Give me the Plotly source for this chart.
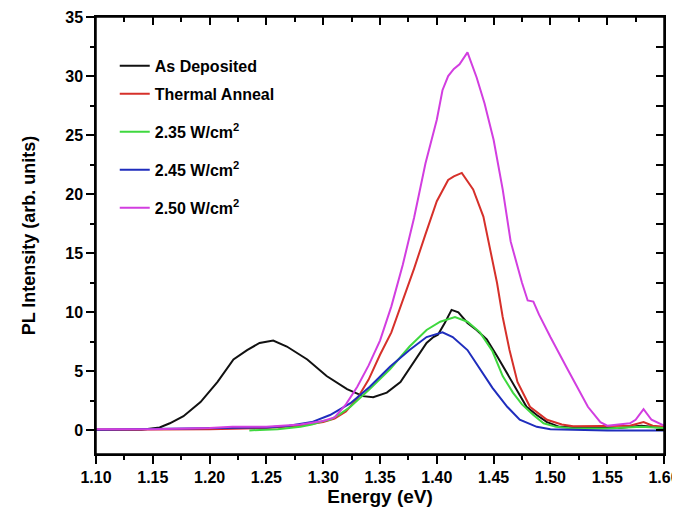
import plotly.graph_objects as go

# ---- data ----
as_dep_x = [1.10, 1.14, 1.156, 1.165, 1.177, 1.192, 1.207, 1.221, 1.233, 1.244, 1.256, 1.268, 1.286, 1.303,
            1.321, 1.335, 1.344, 1.356, 1.368, 1.379, 1.391, 1.397, 1.401, 1.407, 1.413, 1.419, 1.427,
            1.435, 1.444, 1.453, 1.462, 1.471, 1.479, 1.488, 1.497, 1.508, 1.53, 1.56, 1.58, 1.60]
as_dep_y = [0.05, 0.05, 0.25, 0.6, 1.2, 2.4, 4.1, 6.0, 6.8, 7.4, 7.6, 7.1, 6.0, 4.6,
            3.5, 2.9, 2.8, 3.2, 4.1, 5.7, 7.4, 7.9, 8.1, 9.1, 10.2, 10.0, 9.1,
            8.5, 7.7, 6.3, 4.8, 3.4, 2.0, 1.3, 0.7, 0.3, 0.2, 0.2, 0.4, 0.2]

anneal_x = [1.10, 1.20, 1.25, 1.28, 1.30, 1.31, 1.32, 1.33, 1.34, 1.35, 1.36, 1.37, 1.38, 1.39, 1.40,
            1.41, 1.415, 1.422, 1.432, 1.441, 1.447, 1.453, 1.458, 1.464, 1.471, 1.482, 1.497, 1.51,
            1.52, 1.55, 1.57, 1.582, 1.59, 1.60]
anneal_y = [0.05, 0.1, 0.2, 0.4, 0.7, 1.0, 1.6, 2.7, 4.3, 6.4, 8.3, 11.0, 13.7, 16.6, 19.4,
            21.2, 21.5, 21.8, 20.4, 18.1, 15.4, 12.5, 9.6, 6.8, 4.1, 2.0, 0.9, 0.5,
            0.35, 0.35, 0.4, 0.7, 0.4, 0.3]

p235_x = [1.235, 1.26, 1.28, 1.29, 1.30, 1.306, 1.315, 1.324, 1.341, 1.359, 1.376, 1.391, 1.403, 1.416,
          1.427, 1.438, 1.449, 1.458, 1.467, 1.475, 1.485, 1.494, 1.505, 1.52, 1.55, 1.58, 1.60]
p235_y = [0.0, 0.1, 0.3, 0.5, 0.8, 0.9, 1.4, 2.0, 3.5, 5.2, 7.1, 8.5, 9.2, 9.6,
          9.2, 8.3, 6.7, 4.6, 3.2, 2.2, 1.3, 0.6, 0.3, 0.15, 0.15, 0.3, 0.2]

p245_x = [1.10, 1.18, 1.22, 1.25, 1.27, 1.29, 1.306, 1.324, 1.341, 1.359, 1.376, 1.391, 1.405, 1.414,
          1.427, 1.438, 1.449, 1.462, 1.473, 1.488, 1.50, 1.55, 1.60]
p245_y = [0.05, 0.15, 0.25, 0.25, 0.4, 0.7, 1.3, 2.3, 3.7, 5.4, 6.8, 7.9, 8.3, 7.9,
          6.8, 5.2, 3.6, 2.0, 0.9, 0.3, 0.1, 0.0, 0.0]

p250_x = [1.10, 1.15, 1.20, 1.22, 1.25, 1.28, 1.30, 1.31, 1.32, 1.33, 1.34, 1.35, 1.36, 1.37, 1.38,
          1.39, 1.40, 1.405, 1.41, 1.415, 1.42, 1.427, 1.435, 1.442, 1.45, 1.458, 1.465, 1.475,
          1.48, 1.485, 1.49, 1.50, 1.515, 1.526, 1.533, 1.544, 1.55, 1.56, 1.57, 1.575, 1.582,
          1.589, 1.60]
p250_y = [0.1, 0.1, 0.2, 0.3, 0.3, 0.5, 0.8, 1.1, 2.2, 3.7, 5.5, 7.6, 10.5, 14.0, 18.0,
          22.6, 26.3, 28.8, 30.0, 30.6, 31.0, 32.0, 29.9, 27.7, 24.6, 20.4, 16.0, 12.5,
          11.0, 10.9, 9.8, 7.9, 5.2, 3.2, 2.0, 0.7, 0.4, 0.5, 0.6, 0.9, 1.8,
          0.9, 0.4]

series_names = ["As Deposited", "Thermal Anneal", "2.35 W/cm<sup>2</sup>",
                "2.45 W/cm<sup>2</sup>", "2.50 W/cm<sup>2</sup>"]
series_x = [as_dep_x, anneal_x, p235_x, p245_x, p250_x]
series_y = [as_dep_y, anneal_y, p235_y, p245_y, p250_y]
series_colors = ["#111111", "#d6302a", "#3fd83f", "#1f2dbd", "#d23ee0"]

x_ticks = [1.10, 1.15, 1.20, 1.25, 1.30, 1.35, 1.40, 1.45, 1.50, 1.55, 1.60]
x_minor_ticks = [1.125, 1.175, 1.225, 1.275, 1.325, 1.375, 1.425, 1.475, 1.525, 1.575]
y_ticks = [0, 5, 10, 15, 20, 25, 30, 35]
y_minor_ticks = [2.5, 7.5, 12.5, 17.5, 22.5, 27.5, 32.5]
x_range = [1.10, 1.60]
y_range = [-2, 35]

FONT = "Arial, Liberation Sans, sans-serif"

# legend rows (paper y of each legend entry)
legend_ids = ["legend", "legend2", "legend3", "legend4", "legend5"]
legend_rows = [0.888, 0.824, 0.737, 0.650, 0.563]

fig = go.Figure()
for name, xs, ys, col, lid in zip(series_names, series_x, series_y, series_colors, legend_ids):
    fig.add_trace(go.Scatter(x=xs, y=ys, mode="lines", name=name, legend=lid,
                             line=dict(color=col, width=2)))

# transparent copies so that plotly draws the frame / minor-tick axes
for xa, ya in [("x2", "y2"), ("x3", "y2"), ("x4", "y3")]:
    fig.add_trace(go.Scatter(x=as_dep_x, y=as_dep_y, xaxis=xa, yaxis=ya, mode="lines",
                             line=dict(width=1, color="rgba(0,0,0,0)"),
                             showlegend=False, hoverinfo="skip"))

legend_style = dict(xanchor="left", yanchor="middle", bgcolor="rgba(0,0,0,0)", borderwidth=0,
                    font=dict(family=FONT, size=16, weight="bold", color="black"),
                    itemwidth=30)
legends = {lid: dict(x=0.033, y=ly, **legend_style) for lid, ly in zip(legend_ids, legend_rows)}

tick_style = dict(tickwidth=1.5, tickcolor="black", showgrid=False, zeroline=False,
                  automargin=False)

fig.update_layout(
    width=680, height=512,
    margin=dict(l=88, r=24, t=9, b=66),
    paper_bgcolor="white", plot_bgcolor="white",
    font=dict(family=FONT, color="black"),
    showlegend=True,
    **legends,
    xaxis=dict(**tick_style, showline=True, linecolor="black", linewidth=1.5, mirror=True,
               range=x_range, tickmode="array", tickvals=x_ticks,
               ticktext=[f"{v:.2f}" for v in x_ticks],
               ticks="outside", ticklen=8,
               tickfont=dict(family=FONT, size=16, weight="bold"),
               title=dict(text="Energy (eV)", font=dict(family=FONT, size=19, weight="bold"),
                          standoff=4)),
    yaxis=dict(**tick_style, showline=True, linecolor="black", linewidth=1.5, mirror=True,
               range=y_range, tickmode="array", tickvals=y_ticks,
               ticks="outside", ticklen=8,
               tickfont=dict(family=FONT, size=16, weight="bold"),
               title=dict(text="PL Intensity (arb. units)",
                          font=dict(family=FONT, size=18, weight="bold"), standoff=25)),
    xaxis2=dict(**tick_style, overlaying="x", side="top", anchor="y2", range=x_range,
                showline=True, linecolor="black", linewidth=1.5,
                tickmode="array", tickvals=x_ticks, showticklabels=False,
                ticks="inside", ticklen=8),
    xaxis3=dict(**tick_style, overlaying="x", side="top", anchor="y2", range=x_range,
                tickmode="array", tickvals=x_minor_ticks, showticklabels=False,
                ticks="inside", ticklen=5),
    xaxis4=dict(**tick_style, overlaying="x", side="bottom", anchor="y3", range=x_range,
                tickmode="array", tickvals=x_minor_ticks, showticklabels=False,
                ticks="outside", ticklen=5),
    yaxis2=dict(**tick_style, overlaying="y", side="right", anchor="x2", range=y_range,
                showline=True, linecolor="black", linewidth=1.5,
                tickmode="array", tickvals=y_ticks + y_minor_ticks, showticklabels=False,
                ticks="inside", ticklen=8),
    yaxis3=dict(**tick_style, overlaying="y", side="left", anchor="x4", range=y_range,
                tickmode="array", tickvals=y_minor_ticks, showticklabels=False,
                ticks="outside", ticklen=5),
)

# plot frame (top and right edges of the box)
fig.add_shape(type="rect", xref="paper", yref="paper", x0=0, y0=0, x1=1, y1=1,
              line=dict(color="black", width=1.5), fillcolor="rgba(0,0,0,0)", layer="above")

fig.write_html("out.html")
